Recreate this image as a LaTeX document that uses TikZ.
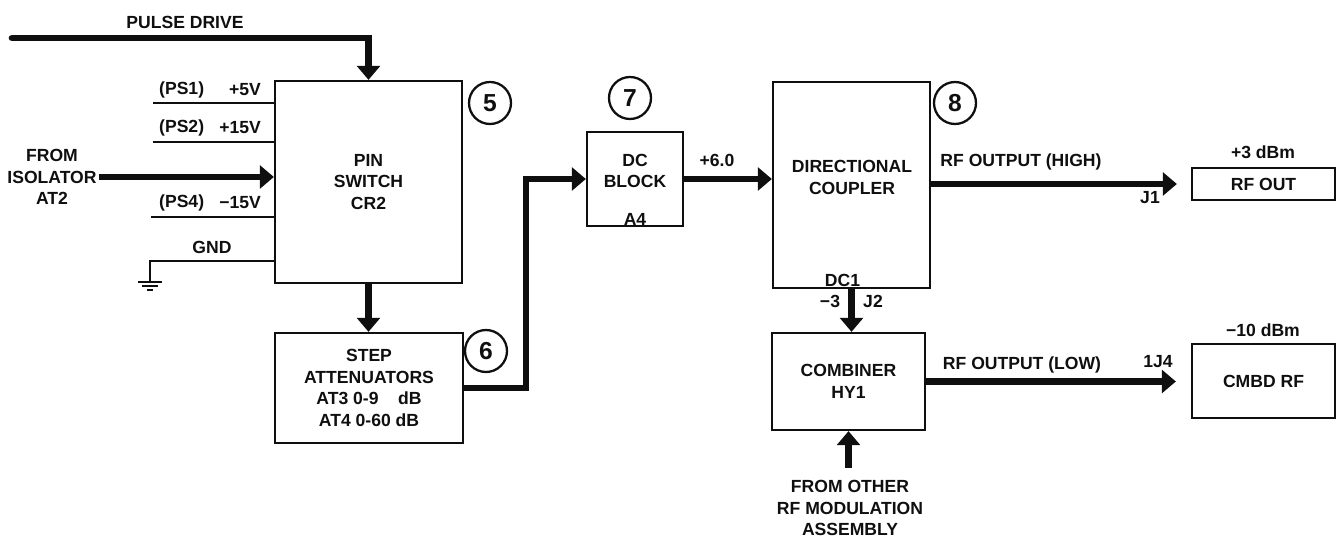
\documentclass[tikz,border=0pt]{standalone}
\usepackage{fontspec}
\setmainfont{Liberation Sans}
\usetikzlibrary{positioning, arrows.meta}
\definecolor{tinta_color}{RGB}{15, 15, 15}

\begin{document}
\begin{tikzpicture}[x=0.02cm, y=-0.02cm, font=\fontsize{10}{12.2}\selectfont\bfseries, color=tinta_color,
    caja/.style={draw, line width=1.3pt, align=center, inner sep=0pt},
    bus_rf/.style={line width=3.8pt, -{Triangle[width=13pt, length=8pt]}},
    cable/.style={line width=1.1pt},
    numero/.style={draw, circle, line width=1.3pt, minimum size=0.84cm, inner sep=0pt,
      font=\fontsize{14}{14}\selectfont\bfseries}]

      \useasboundingbox (0,0) rectangle (1341,540);

      % 1. BLOQUES
      \node[caja, minimum width=3.74cm, minimum height=4.04cm] (pin) at (368.5,182) {PIN\\ SWITCH\\ CR2};
      \node[caja, minimum width=3.76cm, minimum height=2.2cm] (step) at (369,388)
        {STEP\\ ATTENUATORS\\ AT3 0-9\phantom{0}~~dB\\ AT4 0-60 dB};
      \node[caja, minimum width=1.92cm, minimum height=1.88cm] (dcb) at (635,179) {};
      \node[caja, minimum width=3.14cm, minimum height=4.12cm] (dcp) at (851.5,185) {};
      \node[caja, minimum width=3.06cm, minimum height=1.94cm] (cmb) at (848.5,381.5) {COMBINER\\ HY1};
      \node[caja, minimum width=2.86cm, minimum height=0.64cm] (rfout) at (1263.5,184) {RF OUT};
      \node[caja, minimum width=2.86cm, minimum height=1.48cm] (cmbd) at (1263.5,381) {CMBD RF};

      % Textos dentro de los bloques
      \node[align=center] (dcb_txt) at (635,171) {DC\\ BLOCK};
      \node[anchor=south, inner sep=1pt] (dcb_ref) at (dcb.south) {A4};
      \node[align=center] (dcp_txt) at (852,177.5) {DIRECTIONAL\\ COUPLER};
      \node[anchor=south, inner sep=1pt] (dcp_ref) at ([xshift=-0.18cm]dcp.south) {DC1};

      % Números de referencia
      \node[numero] (n5) at (490,103) {5};
      \node[numero] (n6) at (486,351) {6};
      \node[numero] (n7) at (630,98) {7};
      \node[numero] (n8) at (955,103) {8};

      % 2. ENTRADAS DEL PIN SWITCH
      \coordinate (pulso) at (12,38);
      \node (txt_pulso) at (185,22) {PULSE DRIVE};
      \draw[bus_rf, line cap=round] (pulso) -| (pin.north);

      \node[align=center, inner sep=1pt] (iso) at (52,177) {FROM\\ ISOLATOR\\ AT2};
      \draw[bus_rf] (iso.east) -- (iso.east -| pin.west);

      % Alimentaciones
      \coordinate (ps1) at (153,103);
      \coordinate (ps2) at (153,142);
      \coordinate (ps4) at (151,217);
      \draw[cable] (ps1) -- (ps1 -| pin.west);
      \draw[cable] (ps2) -- (ps2 -| pin.west);
      \draw[cable] (ps4) -- (ps4 -| pin.west);
      \node[anchor=west] (ps1_txt) at (153,90) {(PS1)};
      \node[anchor=east] (ps1_v) at (267,90) {+5V};
      \node[anchor=west] (ps2_txt) at (153,128) {(PS2)};
      \node[anchor=east] (ps2_v) at (267,128) {+15V};
      \node[anchor=west] (ps4_txt) at (153,203) {(PS4)};
      \node[anchor=east] (ps4_v) at (267,203) {−15V};

      % Tierra
      \coordinate (gnd_in) at (150,261);
      \coordinate (tierra) at (150,282);
      \node (gnd_txt) at (212,247) {GND};
      \draw[cable] (gnd_in -| pin.west) -| (tierra);
      \draw[line width=1.5pt] (138,282) -- (162,282) (142,286) -- (158,286) (147,290) -- (153,290);

      % 3. CAMINO DE RF
      \draw[bus_rf] (pin.south) -- (pin.south |- step.north);
      \draw[bus_rf] (step.east) -- ++(62,0) |- (dcb.west);
      \draw[bus_rf] (dcb.east) -- (dcb.east -| dcp.west);
      \node (v_dc) at (717,160) {+6.0};

      % Salida alta
      \draw[bus_rf] (dcp.east |- rfout.west) -- ([xshift=-0.28cm]rfout.west);
      \node (txt_high) at (1021,162) {RF OUTPUT (HIGH)};
      \node (j1) at (1150,198) {J1};
      \node (p_high) at (1263,152) {+3 dBm};

      % Acoplador a combinador
      \draw[bus_rf] (dcp.south) -- (dcp.south |- cmb.north);
      \node (v_acop) at (830,301) {−3};
      \node (j2) at (873,301) {J2};

      % Salida baja
      \draw[bus_rf] (cmb.east) -- ([xshift=-0.3cm]cmb.east -| cmbd.west);
      \node (txt_low) at (1022,365) {RF OUTPUT (LOW)};
      \node (j4) at (1158,362) {1J4};
      \node (p_low) at (1263,330) {−10 dBm};

      % Entrada desde el otro conjunto
      \node[align=center, inner sep=1pt] (otro) at (850,508) {FROM OTHER\\ RF MODULATION\\ ASSEMBLY};
      \draw[bus_rf] ([yshift=6pt]otro.north -| cmb.south) -- (cmb.south);

\end{tikzpicture}
\end{document}
